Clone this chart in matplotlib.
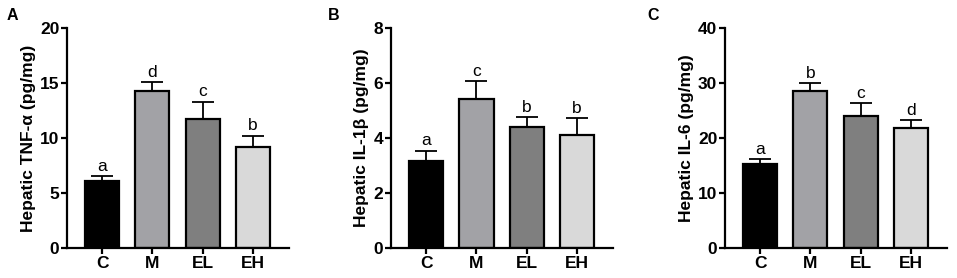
import matplotlib.pyplot as plt
import numpy as np

plt.rcParams['font.family'] = ['Liberation Sans', 'DejaVu Sans']

groups = ["C", "M", "EL", "EH"]
colors = ["#000000", "#a2a2a6", "#7f7f7f", "#d9d9d9"]

tnf_mean = [6.1, 14.3, 11.75, 9.2]
tnf_err = [0.4, 0.8, 1.55, 1.0]
tnf_letters = ["a", "d", "c", "b"]

il1b_mean = [3.16, 5.41, 4.4, 4.12]
il1b_err = [0.38, 0.66, 0.36, 0.6]
il1b_letters = ["a", "c", "b", "b"]

il6_mean = [15.2, 28.5, 24.0, 21.8]
il6_err = [0.9, 1.5, 2.3, 1.4]
il6_letters = ["a", "b", "c", "d"]

panels = [
    ("A", tnf_mean, tnf_err, tnf_letters, "Hepatic TNF-α (pg/mg)", 20, 5),
    ("B", il1b_mean, il1b_err, il1b_letters, "Hepatic IL-1β (pg/mg)", 8, 2),
    ("C", il6_mean, il6_err, il6_letters, "Hepatic IL-6 (pg/mg)", 40, 10),
]
lefts = [0.070, 0.4086, 0.7576]
panel_x = [0.007, 0.343, 0.676]

fig = plt.figure(figsize=(9.57, 2.78), dpi=100)

for i, (tag, mean, err, letters, ylabel, ymax, step) in enumerate(panels):
    ax = fig.add_axes([lefts[i], 0.108, 0.232, 0.792])
    x = np.arange(len(groups))
    ax.errorbar(x, mean, yerr=[np.zeros(len(err)), err], fmt="none",
                ecolor="black", elinewidth=1.3, capsize=8, capthick=1.3, zorder=1)
    ax.bar(x, mean, width=0.68, color=colors, edgecolor="black", linewidth=1.6, zorder=2)
    for xi, m, e, lt in zip(x, mean, err, letters):
        ax.text(xi, m + e + ymax * 0.01, lt, ha="center", va="bottom", fontsize=12.5)
    ax.set_xlim(-0.7, 3.72)
    ax.set_ylim(0, ymax)
    ax.set_yticks(np.arange(0, ymax + step, step))
    ax.set_xticks(x)
    ax.set_xticklabels(groups, fontweight="bold", fontsize=12.5)
    for lab in ax.get_yticklabels():
        lab.set_fontweight("bold")
        lab.set_fontsize(12.5)
    ax.set_ylabel(ylabel, fontweight="bold", fontsize=12.5, labelpad=3)
    for s in ["top", "right"]:
        ax.spines[s].set_visible(False)
    for s in ["left", "bottom"]:
        ax.spines[s].set_linewidth(1.6)
    ax.tick_params(width=1.6, length=4, pad=1.5)
    fig.text(panel_x[i], 0.946, tag, fontweight="bold", fontsize=11.5, ha="left", va="center")

fig.savefig("out.png", dpi=100)
